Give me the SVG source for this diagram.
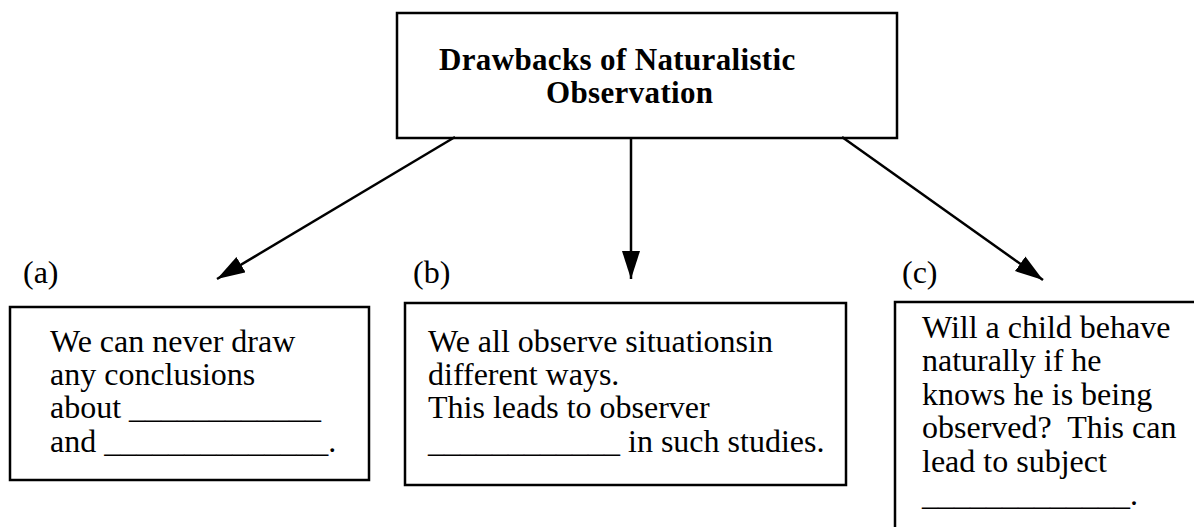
<svg xmlns="http://www.w3.org/2000/svg" width="1194" height="527" viewBox="0 0 1194 527">
<style>
.box{fill:#fff;stroke:#000;stroke-width:2.5}
.t{font-family:"Liberation Serif","Times New Roman",serif;font-size:32px;fill:#000;white-space:pre}
.b{font-weight:bold;font-size:31px;letter-spacing:0.35px}
.c{stroke:#000;stroke-width:2.5;fill:none}
</style>
<defs>
<marker id="ah" markerWidth="30" markerHeight="20" refX="28" refY="9" orient="auto" markerUnits="userSpaceOnUse">
<path d="M0,0 L28,9 L0,18 Z" fill="#000"/>
</marker>
</defs>
<rect width="1194" height="527" fill="#fff"/>
<g id="title">
<rect class="box" x="397" y="13" width="500" height="125"/>
<text class="t b" x="439" y="70">Drawbacks of Naturalistic</text>
<text class="t b" x="546" y="103">Observation</text>
</g>
<g id="connectors">
<line class="c" x1="455" y1="137" x2="217" y2="279" marker-end="url(#ah)"/>
<line class="c" x1="631" y1="137" x2="631" y2="279" marker-end="url(#ah)"/>
<line class="c" x1="842" y1="137" x2="1043" y2="280" marker-end="url(#ah)"/>
</g>
<g id="node-a">
<text class="t" x="23" y="283">(a)</text>
<rect class="box" x="10" y="307" width="359" height="173"/>
<text class="t" x="50" y="352">We can never draw</text>
<text class="t" x="50" y="385">any conclusions</text>
<text class="t" x="50" y="418">about ____________</text>
<text class="t" x="50" y="452">and ______________.</text>
</g>
<g id="node-b">
<text class="t" x="413" y="283">(b)</text>
<rect class="box" x="405" y="303" width="441" height="182"/>
<text class="t" x="428" y="352">We all observe situationsin</text>
<text class="t" x="428" y="385">different ways.</text>
<text class="t" x="428" y="418">This leads to observer</text>
<text class="t" x="428" y="452">____________ in such studies.</text>
</g>
<g id="node-c">
<text class="t" x="902" y="283">(c)</text>
<rect class="box" x="895" y="302" width="320" height="250"/>
<text class="t" x="922" y="338">Will a child behave</text>
<text class="t" x="922" y="371">naturally if he</text>
<text class="t" x="922" y="405">knows he is being</text>
<text class="t" x="922" y="438">observed?  This can</text>
<text class="t" x="922" y="472">lead to subject</text>
<text class="t" x="922" y="505">_____________.</text>
</g>
</svg>
